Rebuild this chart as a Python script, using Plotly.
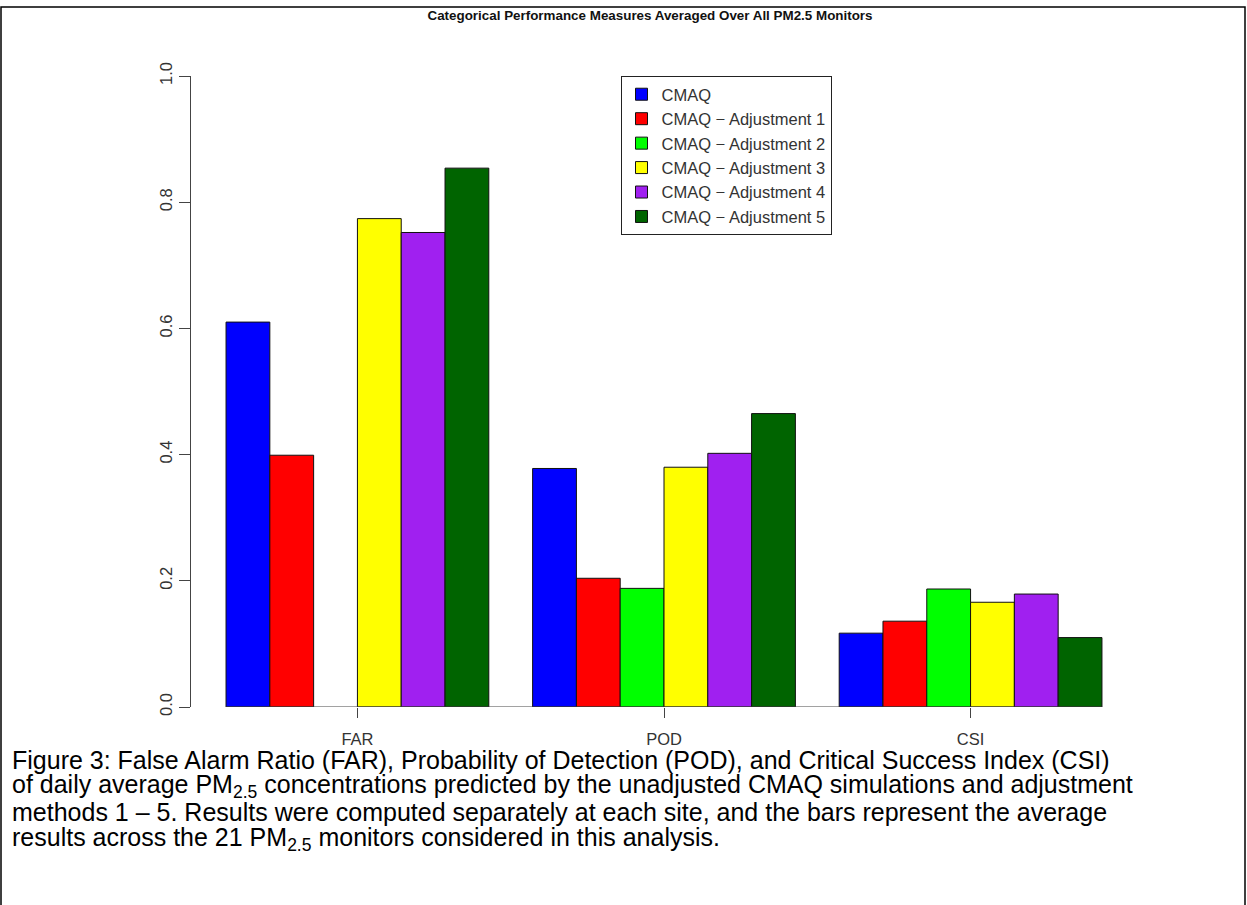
import plotly.graph_objects as go

categories = ["FAR", "POD", "CSI"]
series_names = ["CMAQ", "CMAQ \u2212 Adjustment 1", "CMAQ \u2212 Adjustment 2",
                "CMAQ \u2212 Adjustment 3", "CMAQ \u2212 Adjustment 4", "CMAQ \u2212 Adjustment 5"]
cmaq = [0.610, 0.378, 0.117]
adj1 = [0.399, 0.204, 0.136]
adj2 = [None, 0.188, 0.187]
adj3 = [0.774, 0.380, 0.166]
adj4 = [0.752, 0.402, 0.179]
adj5 = [0.854, 0.465, 0.110]
series_values = [cmaq, adj1, adj2, adj3, adj4, adj5]
colors = ["#0000FF", "#FF0000", "#00FF00", "#FFFF00", "#A020F0", "#006400"]
y_ticks = [0.0, 0.2, 0.4, 0.6, 0.8, 1.0]
title_text = "Categorical Performance Measures Averaged Over All PM2.5 Monitors"
caption_lines = [
    "Figure 3: False Alarm Ratio (FAR), Probability of Detection (POD), and Critical Success Index (CSI)",
    "of daily average PM<sub>2.5</sub> concentrations predicted by the unadjusted CMAQ simulations and adjustment",
    "methods 1 \u2013 5. Results were computed separately at each site, and the bars represent the average",
    "results across the 21 PM<sub>2.5</sub> monitors considered in this analysis.",
]

W, H = 1247, 905
L, R, T, B = 191, 110, 76, 198
PW, PH = W - L - R, H - T - B
FONT = "Liberation Sans, Arial, sans-serif"

def px_x(x):
    return (x - L) / PW

def px_y(y):
    return (H - B - y) / PH

fig = go.Figure()
for name, vals, col in zip(series_names, series_values, colors):
    fig.add_trace(go.Bar(x=categories, y=vals, name=name,
                         marker=dict(color=col, line=dict(color="#111111", width=1))))

nbar = len(series_names)
half = nbar / 2 / (nbar + 1)
ext = 0.8 / (nbar + 1)

fig.update_layout(
    width=W, height=H,
    margin=dict(l=L, r=R, t=T, b=B, pad=0),
    paper_bgcolor="white", plot_bgcolor="white",
    barmode="group", bargap=1 / (nbar + 1), bargroupgap=0,
    font=dict(family=FONT, size=16.5, color="#333333"),
    title=dict(text="<b>" + title_text + "</b>", font=dict(size=13.4, color="#111111", family=FONT),
               x=650 / W, xref="container", xanchor="center",
               y=1 - 15 / H, yref="container", yanchor="middle"),
    legend=dict(x=px_x(620.5), y=1.0, xanchor="left", yanchor="top",
                bordercolor="#222222", borderwidth=1, bgcolor="white",
                font=dict(size=16.5, color="#333333", family=FONT)),
    xaxis=dict(range=[-half - ext, len(categories) - 1 + half + ext],
               showline=False, showgrid=False, zeroline=False,
               ticks="outside", ticklen=10, tickcolor="#444444", tickwidth=1,
               ticklabelstandoff=7),
    yaxis=dict(range=[0, 1], tickvals=y_ticks, tickformat=".1f",
               tickangle=-90, showline=True, linecolor="#444444", linewidth=1,
               showgrid=False, zeroline=False,
               ticks="outside", ticklen=11, tickcolor="#444444", tickwidth=1,
               ticklabelstandoff=0),
)

# baseline under the bars (R-style axis line spanning the bars)
fig.add_shape(type="line", xref="x", yref="y", x0=-half, x1=len(categories) - 1 + half,
              y0=0, y1=0, line=dict(color="#444444", width=1))

# outer frame of figure
fig.add_shape(type="rect", xref="paper", yref="paper",
              x0=px_x(1), x1=px_x(1245), y0=px_y(920), y1=px_y(7),
              line=dict(color="#000000", width=1.5), fillcolor="rgba(0,0,0,0)")

caption_y = [760, 786, 812, 839]
for line, yy in zip(caption_lines, caption_y):
    fig.add_annotation(text=line, xref="paper", yref="paper",
                       x=px_x(10), y=px_y(yy), xanchor="left", yanchor="middle",
                       showarrow=False, align="left",
                       font=dict(size=25, color="#000000", family=FONT))

fig.write_html("out.html", config={"displayModeBar": False},
               post_script="document.body.style.margin='0px';")
